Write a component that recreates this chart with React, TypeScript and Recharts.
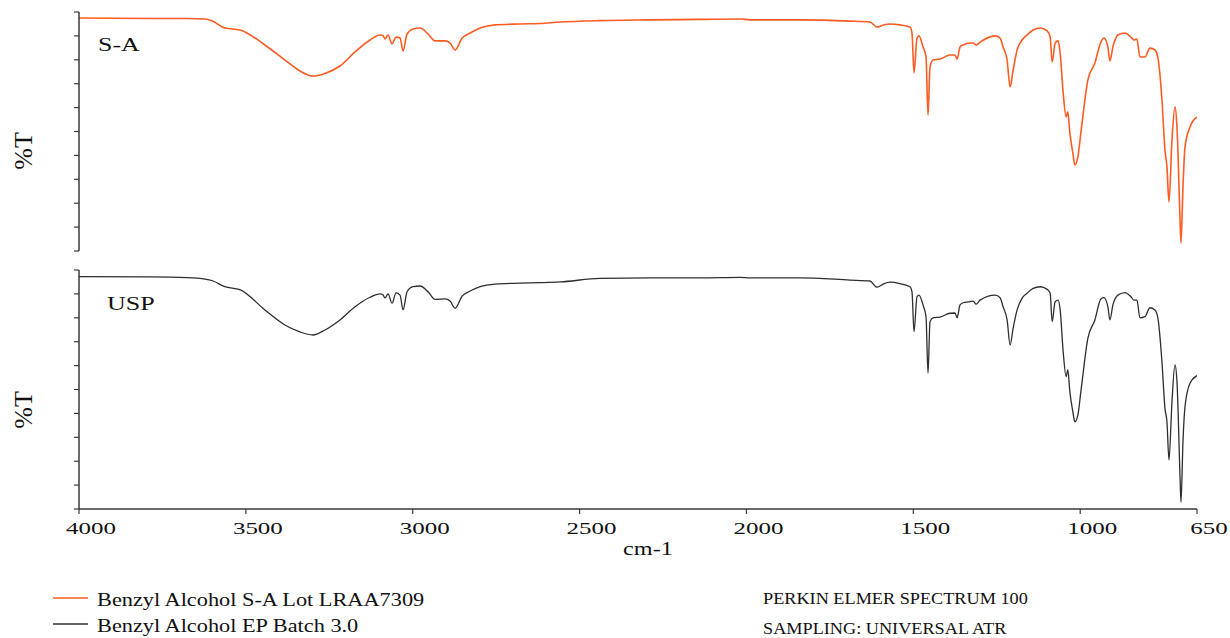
import { LineChart, Line, XAxis, YAxis } from 'recharts'

// wavenumber grid (cm-1), high -> low
const wavenumbers = [
  4000, 3787, 3676, 3622, 3600, 3563, 3518, 3443, 3383, 3338,
  3299, 3263, 3218, 3173, 3128, 3098, 3089, 3083, 3074, 3062,
  3050, 3038, 3029, 3017, 2999, 2978, 2954, 2933, 2903, 2888,
  2873, 2852, 2828, 2798, 2753, 2679, 2619, 2559, 2439, 2289,
  2139, 2019, 1989, 1840, 1690, 1630, 1609, 1590, 1570, 1540,
  1510, 1504, 1498, 1489, 1483, 1471, 1462, 1456, 1450, 1441,
  1420, 1390, 1375, 1369, 1360, 1351, 1330, 1321, 1312, 1300,
  1255, 1240, 1231, 1219, 1210, 1201, 1189, 1174, 1159, 1141,
  1120, 1099, 1090, 1084, 1075, 1066, 1060, 1051, 1042, 1037,
  1031, 1022, 1016, 1007, 998, 977, 956, 938, 929, 917,
  911, 902, 887, 866, 848, 839, 830, 821, 806, 791,
  776, 767, 755, 746, 740, 734, 725, 716, 710, 701,
  698, 692, 686, 671, 650,
]

// %T, Benzyl Alcohol S-A Lot LRAA7309
const saTransmittance = [
  97.5, 97.3, 97.3, 97.1, 96.2, 93.3, 92.5, 86.2, 79.9, 75.3,
  73.2, 74.3, 77.4, 83.3, 88.3, 90.4, 90.2, 88.7, 90.4, 86.6,
  89.5, 89.1, 83.7, 90.8, 92.9, 93.3, 90.8, 87.9, 87.9, 87.0,
  84.1, 89.1, 91.2, 93.3, 94.6, 95.0, 95.2, 95.8, 96.4, 96.7,
  96.9, 97.1, 96.7, 96.7, 96.2, 95.8, 93.7, 94.6, 95.0, 94.6,
  93.7, 91.2, 74.5, 89.1, 90.0, 85.4, 81.2, 56.9, 77.0, 79.9,
  80.3, 82.0, 82.0, 80.3, 85.4, 86.2, 87.0, 87.0, 86.2, 87.4,
  90.0, 89.1, 85.4, 79.9, 68.6, 75.7, 84.1, 88.3, 90.4, 92.5,
  93.3, 92.1, 89.5, 79.1, 87.0, 87.9, 82.8, 66.1, 56.1, 58.2,
  49.4, 41.0, 36.0, 39.3, 49.4, 71.5, 78.7, 87.4, 89.1, 85.4,
  79.5, 85.4, 90.4, 91.2, 89.5, 88.3, 88.7, 81.2, 81.2, 84.9,
  84.1, 80.8, 63.2, 42.3, 35.1, 20.5, 46.4, 60.3, 51.9, 14.2,
  3.3, 26.8, 43.5, 51.9, 56.1,
]

// %T, Benzyl Alcohol EP Batch 3.0 (USP)
const uspTransmittance = [
  97.2, 97.1, 96.8, 96.2, 95.5, 93.0, 91.8, 83.3, 77.0, 74.1,
  72.8, 74.9, 79.1, 84.6, 88.6, 90.0, 89.5, 88.3, 90.0, 86.1,
  90.4, 89.5, 83.3, 90.9, 93.0, 93.3, 90.9, 87.7, 87.9, 87.0,
  84.0, 89.1, 91.2, 93.0, 94.1, 94.5, 94.7, 95.0, 96.5, 96.7,
  96.7, 96.9, 96.7, 96.7, 95.8, 95.4, 92.8, 94.1, 94.9, 94.3,
  93.0, 90.8, 74.2, 88.8, 89.5, 85.4, 80.5, 56.8, 78.4, 80.0,
  80.3, 81.9, 82.0, 80.0, 85.4, 86.3, 86.8, 87.0, 85.7, 87.4,
  89.5, 88.4, 84.6, 79.1, 68.6, 75.6, 83.3, 88.2, 90.3, 92.3,
  93.0, 91.9, 90.3, 78.4, 86.7, 87.4, 83.3, 65.8, 55.4, 58.2,
  49.1, 40.7, 36.5, 39.3, 49.1, 71.4, 79.1, 87.9, 88.4, 84.6,
  79.1, 85.4, 89.5, 90.5, 88.8, 87.4, 87.4, 80.0, 80.5, 84.2,
  83.3, 79.8, 61.6, 42.1, 36.5, 20.5, 44.9, 60.3, 53.3, 14.2,
  2.8, 28.2, 42.8, 52.6, 55.8,
]

const xTicks = [4000, 3500, 3000, 2500, 2000, 1500, 1000, 650]
const yTicks = [0, 10, 20, 30, 40, 50, 60, 70, 80, 90, 100]
const panelNames = ['S-A', 'USP']
const seriesNames = ['Benzyl Alcohol S-A Lot LRAA7309', 'Benzyl Alcohol EP Batch 3.0']
const instrumentNotes = ['PERKIN ELMER SPECTRUM 100', 'SAMPLING: UNIVERSAL ATR']

const ORANGE = '#ff5b22'
const DARK = '#2e2e2e'
const AXIS = '#3a3a3a'
const serif = '"Liberation Serif", "Times New Roman", serif'

const saData = wavenumbers.map((wn, i) => ({ wn, t: saTransmittance[i] }))
const uspData = wavenumbers.map((wn, i) => ({ wn, t: uspTransmittance[i] }))

const margins = { right: 33, left: 1 }

function WaveTick(props: any) {
  const { x, y, payload } = props
  return (
    <text
      transform={`translate(${x + 12},${y + 18}) scale(1.47,1)`}
      textAnchor="middle"
      fontSize={17}
      fontFamily={serif}
      fill="#111"
    >
      {payload.value}
    </text>
  )
}

// y ticks carry no labels, only the little tick marks
function NoLabel() {
  return <g />
}

// wide serif text like the instrument printout
function Wide({ x, y, size, k, anchor = 'start', children }: any) {
  return (
    <text
      transform={`translate(${x},${y}) scale(${k},1)`}
      textAnchor={anchor}
      fontSize={size}
      fontFamily={serif}
      fill="#111"
    >
      {children}
    </text>
  )
}

function yAxisProps() {
  return {
    type: 'number' as const,
    domain: [0, 100],
    ticks: yTicks,
    interval: 0 as const,
    width: 78,
    tick: <NoLabel />,
    tickSize: 5,
    axisLine: { stroke: AXIS, strokeWidth: 1.5 },
    tickLine: { stroke: AXIS, strokeWidth: 1.2 },
  }
}

export default function App() {
  return (
    <div style={{ position: 'absolute', left: 0, top: 0, width: 1230, height: 638, background: '#fff' }}>
      <div style={{ position: 'absolute', left: 0, top: 0 }}>
        <LineChart width={1230} height={256} data={saData} margin={{ top: 12, bottom: 5, ...margins }}>
          <XAxis dataKey="wn" type="number" domain={[650, 4000]} reversed hide allowDataOverflow />
          <YAxis {...yAxisProps()} />
          <Line
            type="monotone"
            dataKey="t"
            stroke={ORANGE}
            strokeWidth={1.6}
            dot={false}
            isAnimationActive={false}
          />
        </LineChart>
      </div>

      <div style={{ position: 'absolute', left: 0, top: 256 }}>
        <LineChart width={1230} height={310} data={uspData} margin={{ top: 14, bottom: 7, ...margins }}>
          <XAxis
            dataKey="wn"
            type="number"
            domain={[650, 4000]}
            reversed
            allowDataOverflow
            ticks={xTicks}
            interval={0}
            height={50}
            tickSize={5}
            tick={<WaveTick />}
            axisLine={{ stroke: AXIS, strokeWidth: 1.5 }}
            tickLine={{ stroke: AXIS, strokeWidth: 1.2 }}
          />
          <YAxis {...yAxisProps()} />
          <Line
            type="monotone"
            dataKey="t"
            stroke={DARK}
            strokeWidth={1.3}
            dot={false}
            isAnimationActive={false}
          />
        </LineChart>
      </div>

      <svg width={1230} height={638} style={{ position: 'absolute', left: 0, top: 0, pointerEvents: 'none' }}>
        <text transform="translate(32,151) rotate(-90)" textAnchor="middle" fontSize={26} fontFamily={serif} fill="#111">
          %T
        </text>
        <text transform="translate(32,410) rotate(-90)" textAnchor="middle" fontSize={26} fontFamily={serif} fill="#111">
          %T
        </text>
        <Wide x={98} y={51} size={18.5} k={1.4}>{panelNames[0]}</Wide>
        <Wide x={107} y={310} size={19} k={1.37}>{panelNames[1]}</Wide>
        <Wide x={648} y={555} size={18} k={1.35} anchor="middle">cm-1</Wide>

        <line x1={53} x2={88} y1={598} y2={598} stroke={ORANGE} strokeWidth={1.5} />
        <Wide x={97} y={606} size={18} k={1.24}>{seriesNames[0]}</Wide>
        <line x1={53} x2={88} y1={624} y2={624} stroke={DARK} strokeWidth={1.5} />
        <Wide x={97} y={632} size={18} k={1.24}>{seriesNames[1]}</Wide>

        <Wide x={763} y={604} size={16} k={1.14}>{instrumentNotes[0]}</Wide>
        <Wide x={763} y={634} size={16} k={1.14}>{instrumentNotes[1]}</Wide>
      </svg>
    </div>
  )
}
